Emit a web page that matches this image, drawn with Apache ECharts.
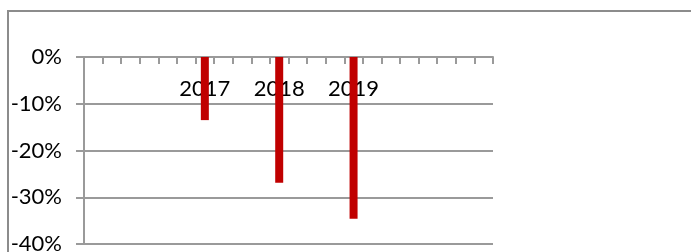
<!DOCTYPE html>
<html>
<head>
<meta charset="utf-8">
<script src="https://cdn.jsdelivr.net/npm/echarts@6/dist/echarts.min.js"></script>
<style>
html,body{margin:0;padding:0;background:#fff;}
#chart{width:691px;height:252px;}
</style>
</head>
<body>
<div id="chart"></div>
<script>
// 22 category slots on the x axis; only three carry year labels
var categories = ['', '', '', '', '', '', '2017', '', '', '', '2018', '', '', '', '2019', '', '', '', '', '', '', ''];
var years = ['2017', '2018', '2019'];
var yearValues = [-13.5, -26.9, -34.6];
var yTicks = [-40, -30, -20, -10, 0];

var seriesData = categories.map(function (c) {
  var i = years.indexOf(c);
  return i >= 0 ? yearValues[i] : null;
});

var chart = echarts.init(document.getElementById('chart'), null, {renderer: 'canvas'});
var axisColor = '#9a9a9a';
chart.setOption({
  animation: false,
  backgroundColor: '#fff',
  graphic: [{
    type: 'rect',
    shape: {x: 8, y: 11, width: 700, height: 260},
    style: {fill: 'none', stroke: '#8c8c8c', lineWidth: 2},
    silent: true
  }],
  grid: {left: 84, right: 198, top: 57, bottom: 8, containLabel: false, outerBoundsMode: 'none'},
  xAxis: {
    type: 'category',
    position: 'top',
    data: categories,
    boundaryGap: true,
    axisLine: {onZero: false, lineStyle: {color: axisColor, width: 2}},
    axisTick: {show: true, inside: true, interval: 0, length: 7, lineStyle: {color: axisColor, width: 2}},
    axisLabel: {
      inside: true, interval: 0, margin: 21,
      color: '#000', fontFamily: 'Lato', fontSize: 22
    },
    splitLine: {show: false}
  },
  yAxis: {
    type: 'value',
    min: yTicks[0], max: yTicks[yTicks.length - 1], interval: 10,
    axisLine: {show: true, lineStyle: {color: axisColor, width: 2}},
    axisTick: {show: true, length: 8, lineStyle: {color: axisColor, width: 2}},
    axisLabel: {
      margin: 22, color: '#000', fontFamily: 'Lato', fontSize: 22,
      formatter: '{value}%'
    },
    splitLine: {show: true, lineStyle: {color: axisColor, width: 2}}
  },
  series: [{
    type: 'bar',
    data: seriesData,
    barWidth: 8,
    itemStyle: {color: '#C00000'},
    z: 5
  }]
});
</script>
</body>
</html>
